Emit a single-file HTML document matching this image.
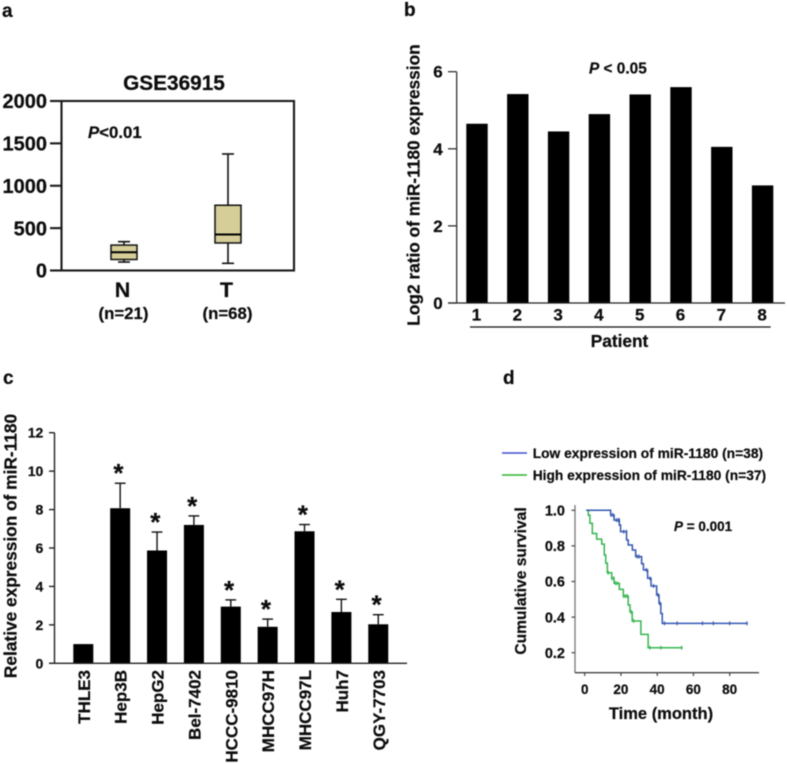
<!DOCTYPE html>
<html>
<head>
<meta charset="utf-8">
<title>miR-1180 expression figure</title>
<style>
html,body{margin:0;padding:0;background:#fff;}
svg{display:block;filter:blur(0.4px);}
text{font-family:"Liberation Sans",sans-serif;font-weight:bold;fill:#0c0c0c;stroke:#0c0c0c;stroke-width:0.22px;}
</style>
</head>
<body>
<svg id="fig" width="787" height="764" viewBox="0 0 787 764" xmlns="http://www.w3.org/2000/svg">
<rect x="0" y="0" width="787" height="764" fill="#fff"/>
<text x="2" y="17" font-size="19">a</text>
<text x="404" y="16" font-size="19">b</text>
<text x="3" y="384" font-size="19">c</text>
<text x="503" y="384" font-size="19">d</text>

<g id="panel-a">
<text x="174" y="90" font-size="20.8" text-anchor="middle">GSE36915</text>
<text x="88" y="138" font-size="16.8"><tspan font-style="italic">P</tspan>&lt;0.01</text>
</g>

<g id="panel-b">
<text transform="translate(419.5,185) rotate(-90)" font-size="17.3" text-anchor="middle">Log2 ratio of miR-1180 expression</text>
<text x="589" y="73.5" font-size="15.4"><tspan font-style="italic">P</tspan> &lt; 0.05</text>
<line x1="470" y1="327" x2="770.7" y2="327" stroke="#111" stroke-width="1.3"/>
<text x="619.5" y="347" font-size="17.3" text-anchor="middle">Patient</text>
</g>

<g id="panel-c">
<text transform="translate(16.7,546) rotate(-90)" font-size="17.3" text-anchor="middle">Relative expression of miR-1180</text>
</g>

<g id="panel-d">
<line x1="502" y1="453" x2="527" y2="453" stroke="#3f4fd0" stroke-width="1.5"/>
<text x="532.7" y="458" font-size="13.8">Low expression of miR-1180 (n=38)</text>
<line x1="502" y1="475" x2="527" y2="475" stroke="#2db52d" stroke-width="1.5"/>
<text x="532.7" y="480" font-size="13.8">High expression of miR-1180 (n=37)</text>
<text transform="translate(526,581) rotate(-90)" font-size="15.6" text-anchor="middle">Cumulative survival</text>
<text x="661" y="719" font-size="16.5" text-anchor="middle">Time (month)</text>
<text x="674" y="531" font-size="13.5"><tspan font-style="italic">P</tspan> = 0.001</text>
</g>

<script>
// Panel a data
var boxCategories = ['N', 'T'];
var boxCounts = ['(n=21)', '(n=68)'];
var boxLow = [100, 85];
var boxQ1 = [130, 325];
var boxMedian = [215, 425];
var boxQ3 = [300, 770];
var boxHigh = [340, 1375];
var boxTicks = [0, 500, 1000, 1500, 2000];

// Panel b data
var patientCategories = ['1', '2', '3', '4', '5', '6', '7', '8'];
var patientValues = [4.65, 5.42, 4.45, 4.9, 5.41, 5.6, 4.05, 3.05];
var patientTicks = [0, 2, 4, 6];

// Panel c data
var cellCategories = ['THLE3', 'Hep3B', 'HepG2', 'Bel-7402', 'HCCC-9810', 'MHCC97H', 'MHCC97L', 'Huh7', 'QGY-7703'];
var cellValues = [1, 8.07, 5.87, 7.2, 2.95, 1.9, 6.87, 2.67, 2.03];
var cellErrors = [0, 1.3, 0.96, 0.47, 0.35, 0.4, 0.35, 0.66, 0.5];
var cellStars = [false, true, true, true, true, true, true, true, true];
var cellTicks = [0, 2, 4, 6, 8, 10, 12];

// Panel d data
var lowTimes = [1, 14.3, 16.2, 19.1, 19.8, 23.1, 24, 26.3, 28.1, 31.4, 32.4, 34.7, 36.6, 39.7, 41, 42, 42.8, 90];
var lowSurvival = [1, 0.974, 0.945, 0.917, 0.88, 0.833, 0.805, 0.777, 0.74, 0.70, 0.665, 0.618, 0.575, 0.524, 0.477, 0.42, 0.365, 0.365];
var lowCensored = [14.5, 15.5, 17.5, 18.5, 19, 21.5, 23, 29, 30, 34, 36, 38, 40.5, 41.5, 44, 51, 65, 71, 80, 89.5];
var highTimes = [0.7, 2, 2.9, 4.2, 6.6, 9.4, 10.8, 11.6, 12.5, 14.9, 16.2, 19.1, 21.3, 24, 25, 26.2, 31, 35, 54];
var highSurvival = [1, 0.972, 0.927, 0.87, 0.838, 0.81, 0.749, 0.703, 0.649, 0.618, 0.59, 0.556, 0.518, 0.468, 0.43, 0.378, 0.303, 0.228, 0.228];
var highCensored = [13, 15, 16, 17, 18, 21.5, 22.5, 23.5, 25.5, 27, 36, 42, 53.5];
var survivalXTicks = [0, 20, 40, 60, 80];
var survivalYTicks = [0.2, 0.4, 0.6, 0.8, 1.0];

var NS = 'http://www.w3.org/2000/svg';
function mk(parent, tag, attrs, content) {
  var el = document.createElementNS(NS, tag);
  for (var k in attrs) { el.setAttribute(k, attrs[k]); }
  if (content !== undefined) { el.textContent = content; }
  parent.appendChild(el);
  return el;
}
function fixed1(v) { return v.toFixed(1); }
var el;

// ---------- Panel a ----------
(function () {
  var g = document.getElementById('panel-a');
  function ay(v) { return 270.5 - v / 2000 * 169.5; }
  var boxX = [124, 228];
  el = mk(g, 'rect', {x: 61.5, y: ay(2000), width: 232.5, height: ay(0) - ay(2000), fill: 'none', stroke: '#1a1a1a', 'stroke-width': 2.1});
  
  
  boxTicks.forEach(function (t) {
    el = mk(g, 'line', {x1: 50, x2: 61.5, y1: ay(t), y2: ay(t), stroke: '#1a1a1a', 'stroke-width': 2.1});
    
    
    el = mk(g, 'text', {x: 47, y: ay(t) + 7.2, 'font-size': 20, 'text-anchor': 'end'}, String(t));
    
    
  });
  boxCategories.forEach(function (c, i) {
    var x = boxX[i], hw = 13, cap = 6;
    el = mk(g, 'line', {x1: x, x2: x, y1: ay(boxHigh[i]), y2: ay(boxLow[i]), stroke: '#111', 'stroke-width': 1.6});
    
    
    el = mk(g, 'line', {x1: x - cap, x2: x + cap, y1: ay(boxHigh[i]), y2: ay(boxHigh[i]), stroke: '#111', 'stroke-width': 1.6});
    
    
    el = mk(g, 'line', {x1: x - cap, x2: x + cap, y1: ay(boxLow[i]), y2: ay(boxLow[i]), stroke: '#111', 'stroke-width': 1.6});
    
    
    el = mk(g, 'rect', {x: x - hw, width: hw * 2, y: ay(boxQ3[i]), height: ay(boxQ1[i]) - ay(boxQ3[i]), fill: '#d5ce98', stroke: '#111', 'stroke-width': 1.5});
    
    
    el = mk(g, 'line', {x1: x - hw, x2: x + hw, y1: ay(boxMedian[i]), y2: ay(boxMedian[i]), stroke: '#000', 'stroke-width': 2});
    
    
    el = mk(g, 'text', {x: x - 1.5, y: 297, 'font-size': 21.5, 'text-anchor': 'middle'}, c);
    
    
    el = mk(g, 'text', {x: x - 0.5, y: 319, 'font-size': 16.8, 'text-anchor': 'middle'}, boxCounts[i]);
    
    
  });
})();

// ---------- Panel b ----------
(function () {
  var g = document.getElementById('panel-b');
  function by(v) { return 303 - v / 6 * 231.3; }
  function bx(i) { return 477 + i * 40.8; }
  patientCategories.forEach(function (c, i) {
    el = mk(g, 'rect', {x: bx(i) - 10.7, width: 21.4, y: by(patientValues[i]), height: by(0) - by(patientValues[i]), fill: '#000'});
    
    
    el = mk(g, 'text', {x: bx(i) - 0.5, y: 320.5, 'font-size': 17, 'text-anchor': 'middle'}, c);
    
    
  });
  el = mk(g, 'line', {x1: 456.7, x2: 456.7, y1: by(6), y2: by(0), stroke: '#222', 'stroke-width': 1.2});
  
  
  el = mk(g, 'line', {x1: 448, x2: 785, y1: by(0), y2: by(0), stroke: '#222', 'stroke-width': 1.2});
  
  
  patientTicks.forEach(function (t) {
    el = mk(g, 'line', {x1: 448, x2: 456.7, y1: by(t), y2: by(t), stroke: '#222', 'stroke-width': 1.2});
    
    
    el = mk(g, 'text', {x: 442.7, y: by(t) + 6, 'font-size': 17, 'text-anchor': 'end'}, String(t));
    
    
  });
})();

// ---------- Panel c ----------
(function () {
  var g = document.getElementById('panel-c');
  function cy(v) { return 663.3 - v / 12 * 230.6; }
  function cx(i) { return 83.3 + i * 36.87; }
  cellCategories.forEach(function (c, i) {
    var x = cx(i);
    if (cellErrors[i] > 0) {
      var top = cy(cellValues[i] + cellErrors[i]);
      el = mk(g, 'line', {x1: x, x2: x, y1: top, y2: cy(cellValues[i]), stroke: '#111', 'stroke-width': 1.4});
      
      
      el = mk(g, 'line', {x1: x - 5.4, x2: x + 5.4, y1: top, y2: top, stroke: '#111', 'stroke-width': 1.4});
      
      
    }
    el = mk(g, 'rect', {x: x - 10, width: 20, y: cy(cellValues[i]), height: cy(0) - cy(cellValues[i]), fill: '#000'});
    
    
    if (cellStars[i]) {
      el = mk(g, 'text', {x: x - 1.7, y: cy(cellValues[i] + cellErrors[i]) - 1, 'font-size': 26, 'text-anchor': 'middle'}, '*');
      
      
    }
    el = mk(g, 'text', {transform: 'translate(' + (x + 6.5) + ',670) rotate(-90)', 'font-size': 17, 'text-anchor': 'end'}, c);
    
    
  });
  el = mk(g, 'line', {x1: 54.5, x2: 54.5, y1: cy(12), y2: cy(0), stroke: '#222', 'stroke-width': 1.4});
  
  
  el = mk(g, 'line', {x1: 49, x2: 407, y1: cy(0), y2: cy(0), stroke: '#222', 'stroke-width': 1.4});
  
  
  cellTicks.forEach(function (t) {
    el = mk(g, 'line', {x1: 49, x2: 54.5, y1: cy(t), y2: cy(t), stroke: '#222', 'stroke-width': 1.4});
    
    
    el = mk(g, 'text', {x: 43.3, y: cy(t) + 5, 'font-size': 14, 'text-anchor': 'end'}, String(t));
    
    
  });
})();

// ---------- Panel d ----------
(function () {
  var g = document.getElementById('panel-d');
  function dx(t) { return 584.7 + t * 1.8125; }
  function dy(s) { return 510.3 + (1 - s) * 178; }
  function stepPath(times, surv) {
    var d = 'M' + dx(times[0]) + ' ' + dy(surv[0]);
    for (var i = 1; i < times.length; i++) {
      d += ' H' + dx(times[i]) + ' V' + dy(surv[i]);
    }
    return d;
  }
  function survivalAt(times, surv, t) {
    var s = surv[0];
    for (var i = 0; i < times.length; i++) { if (times[i] <= t) { s = surv[i]; } }
    return s;
  }
  function drawSeries(name, times, surv, cens, color) {
    el = mk(g, 'path', {d: stepPath(times, surv), fill: 'none', stroke: color, 'stroke-width': 1.5});
    
    
    cens.forEach(function (t) {
      var y = dy(survivalAt(times, surv, t));
      el = mk(g, 'line', {x1: dx(t), x2: dx(t), y1: y - 2, y2: y + 2, stroke: color, 'stroke-width': 1.1});
      
      
    });
  }
  drawSeries('high', highTimes, highSurvival, highCensored, '#35b550');
  drawSeries('low', lowTimes, lowSurvival, lowCensored, '#3657b0');
  el = mk(g, 'line', {x1: 575, x2: 575, y1: 505, y2: 672.7, stroke: '#777', 'stroke-width': 1.3});
  
  
  el = mk(g, 'line', {x1: 575, x2: 759, y1: 672.7, y2: 672.7, stroke: '#444', 'stroke-width': 1.3});
  
  
  survivalYTicks.forEach(function (t) {
    el = mk(g, 'line', {x1: 571.5, x2: 575, y1: dy(t), y2: dy(t), stroke: '#444', 'stroke-width': 1.2});
    
    
    el = mk(g, 'text', {x: 565, y: dy(t) + 5.2, 'font-size': 14.5, 'text-anchor': 'end'}, fixed1(t));
    
    
  });
  survivalXTicks.forEach(function (t) {
    el = mk(g, 'line', {x1: dx(t), x2: dx(t), y1: 672.7, y2: 676, stroke: '#444', 'stroke-width': 1.2});
    
    
    el = mk(g, 'text', {x: dx(t), y: 694, 'font-size': 13.5, 'text-anchor': 'middle'}, String(t));
    
    
  });
})();
</script>
</svg>
</body>
</html>
